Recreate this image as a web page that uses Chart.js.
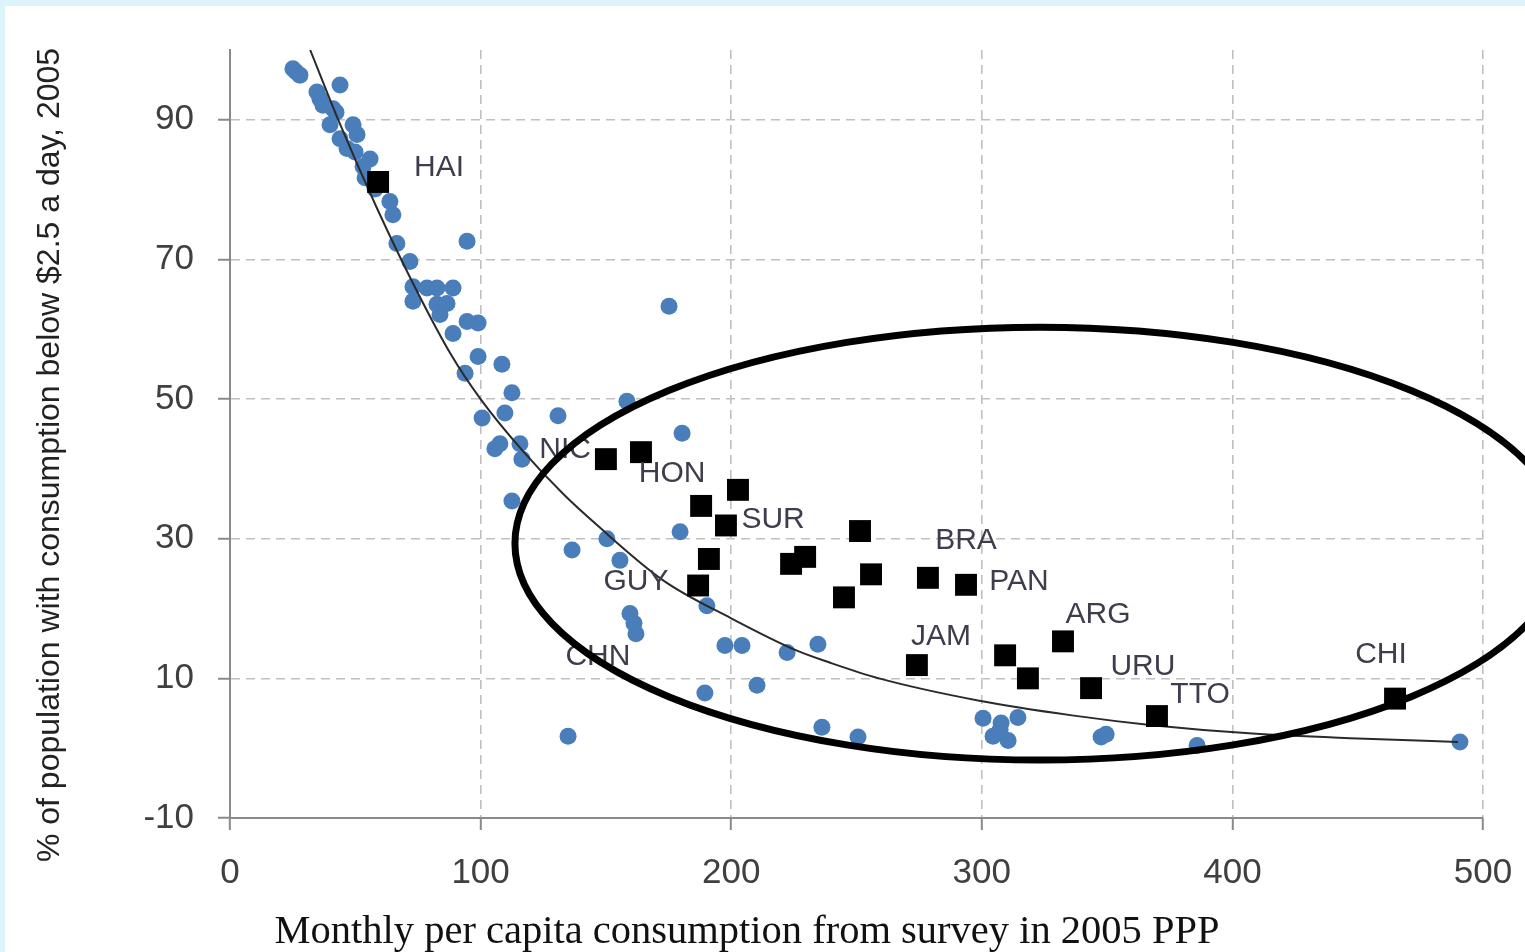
<!DOCTYPE html>
<html><head><meta charset="utf-8">
<script src="https://cdn.jsdelivr.net/npm/chart.js@4.4.1/dist/chart.umd.min.js"></script>
<style>
html,body{margin:0;padding:0;background:#dcf4f9;width:1525px;height:952px;overflow:hidden;}
#wrap{position:absolute;left:5px;top:6px;width:1520px;height:946px;background:#fff;}
</style></head><body><div id="wrap"><canvas id="c" width="1520" height="946"></canvas></div>
<script>
// ---- data ----
const blueX = [25.1,27.9,26.3,43.9,34.7,35.9,37.1,41.1,39.9,42.3,49.1,50.7,43.9,46.7,49.9,55.9,53.1,53.9,57.9,63.8,65.0,66.6,94.6,71.8,73.0,78.6,82.6,89.0,73.0,82.6,86.6,83.8,94.6,99.0,89.0,99.0,108.5,93.8,112.5,130.9,100.6,109.7,107.7,115.7,105.7,116.5,112.5,158.4,180.4,175.2,179.6,136.5,150.4,155.6,159.6,161.2,162.0,190.3,197.5,204.3,222.3,234.6,189.5,210.3,134.9,236.2,250.6,300.5,307.7,314.4,304.5,310.5,307.3,347.6,349.6,385.9,490.8];
const blueY = [97.3,96.4,96.9,95.0,94.0,93.0,92.1,91.6,89.3,91.1,89.3,87.9,87.3,85.9,85.4,84.4,83.3,81.7,80.1,78.3,76.4,72.3,72.6,69.7,66.1,65.9,65.9,65.9,64.0,63.6,63.7,62.1,61.1,60.9,59.4,56.1,55.0,53.7,50.9,47.6,47.3,48.0,43.6,43.6,42.9,41.4,35.4,49.7,45.1,63.3,31.0,28.4,30.0,26.9,19.3,17.9,16.4,20.4,14.7,14.7,13.7,14.9,7.9,9.0,1.7,3.0,1.6,4.3,3.6,4.4,1.7,1.1,2.6,1.6,2.0,0.4,0.9];
const squareX = [59.1,150.0,164.0,188.0,202.7,197.9,191.1,186.8,223.9,229.5,251.4,245.0,255.8,278.5,293.7,274.1,309.3,318.4,332.4,343.6,369.9,464.9];
const squareY = [81.1,41.4,42.4,34.7,37.0,31.9,27.1,23.3,26.4,27.4,31.1,21.6,24.9,24.4,23.4,11.9,13.3,10.0,15.3,8.6,4.6,7.1];
const labelNames = ["HAI","NIC","HON","SUR","GUY","CHN","BRA","PAN","JAM","ARG","URU","TTO","CHI"];
const labelX = [83.4,133.7,176.4,216.7,162.0,146.8,293.7,314.8,283.7,346.4,364.3,387.1,459.3];
const labelY = [83.1,42.7,39.3,32.7,23.9,13.1,29.7,23.9,15.9,19.1,11.7,7.7,13.4];
const trendX = [32,44,58.7,73,88,100,117,133,146,173,200,226,239,259,299,336,368,408,450,490];
const trendY = [100,89.3,77.3,66.6,56.5,50.0,42.5,36.4,32.1,24.0,18.6,14.0,12.3,10.0,6.8,4.7,3.3,2.1,1.4,0.9];
const xTicks = [0,100,200,300,400,500];
const yTicks = [-10,10,30,50,70,90];
const ellipseSpec = {cx:323.2, cy:29.3, rx:209.5, ry:31};
const xTitle = "Monthly per capita consumption from survey in 2005 PPP";
const yTitle = "% of population with consumption below $2.5 a day, 2005";

const zip = (xs, ys) => xs.map((x, i) => ({x, y: ys[i]}));

const overlay = {
  id: 'overlay',
  afterDatasetsDraw(chart) {
    const {ctx, scales: {x, y}} = chart;
    ctx.save();
    ctx.font = '30px "Liberation Sans", Arial, sans-serif';
    ctx.fillStyle = '#3d3d4d';
    ctx.textAlign = 'center';
    ctx.textBaseline = 'middle';
    labelNames.forEach((n, i) => {
      ctx.fillText(n, x.getPixelForValue(labelX[i]), y.getPixelForValue(labelY[i]));
    });
    ctx.restore();
  },
  afterDraw(chart) {
    const {ctx, scales: {x, y}} = chart;
    ctx.save();
    ctx.fillStyle = '#222';
    ctx.textAlign = 'center';
    ctx.textBaseline = 'middle';
    ctx.font = '32px "Liberation Sans", Arial, sans-serif';
    ctx.save();
    ctx.translate(45, 449);
    ctx.rotate(-Math.PI / 2);
    ctx.fillText(yTitle, 0, 0);
    ctx.restore();
    ctx.fillStyle = '#111';
    ctx.font = '40.5px "Liberation Serif", "Times New Roman", serif';
    ctx.fillText(xTitle, 742, 926);
    const cx = x.getPixelForValue(ellipseSpec.cx);
    const cy = y.getPixelForValue(ellipseSpec.cy);
    const rx = Math.abs(x.getPixelForValue(ellipseSpec.cx + ellipseSpec.rx) - cx);
    const ry = Math.abs(y.getPixelForValue(ellipseSpec.cy + ellipseSpec.ry) - cy);
    ctx.beginPath();
    ctx.ellipse(cx, cy, rx, ry, 0, 0, Math.PI * 2);
    ctx.lineWidth = 7;
    ctx.strokeStyle = '#000';
    ctx.stroke();
    ctx.restore();
  }
};

const tickFont = {family: '"Liberation Sans", Arial, sans-serif', size: 35};

new Chart(document.getElementById('c'), {
  type: 'scatter',
  data: {
    datasets: [
      {data: zip(blueX, blueY), backgroundColor: '#4a7ebb', borderWidth: 0, pointRadius: 8.5, order: 3},
      {type: 'line', data: zip(trendX, trendY), borderColor: '#2a2a2a', borderWidth: 2, pointRadius: 0, fill: false, cubicInterpolationMode: 'monotone', order: 2},
      {data: zip(squareX, squareY), backgroundColor: '#000', borderWidth: 0, pointStyle: 'rect', pointRadius: 15.5, order: 1}
    ]
  },
  options: {
    responsive: false,
    devicePixelRatio: 1,
    animation: false,
    events: [],
    layout: {padding: {left: 0, top: 44, right: 42, bottom: 0}, autoPadding: false},
    plugins: {legend: {display: false}, tooltip: {enabled: false}},
    scales: {
      x: {
        type: 'linear', min: 0, max: 500,
        afterBuildTicks: s => { s.ticks = xTicks.map(v => ({value: v})); },
        afterFit: s => { s.height = 134; s.paddingLeft = 0; s.paddingRight = 0; },
        ticks: {font: tickFont, color: '#404040', padding: 22, maxRotation: 0},
        grid: {
          color: c => (c.tick && c.tick.value === 0) ? 'rgba(0,0,0,0)' : '#c0c0c0',
          lineWidth: 1.6, tickLength: 12, tickColor: '#8a8a8a', tickBorderDash: [1, 0], tickWidth: 2
        },
        border: {color: '#8a8a8a', width: 2, dash: [9, 6]}
      },
      y: {
        type: 'linear', min: -10, max: 100,
        afterBuildTicks: s => { s.ticks = yTicks.map(v => ({value: v})); },
        afterFit: s => { s.width = 225; s.paddingTop = 0; s.paddingBottom = 0; },
        ticks: {font: tickFont, color: '#404040', padding: 24},
        grid: {
          color: c => (c.tick && c.tick.value === -10) ? 'rgba(0,0,0,0)' : '#c0c0c0',
          lineWidth: 1.6, tickLength: 12, tickColor: '#8a8a8a', tickBorderDash: [1, 0], tickWidth: 2
        },
        border: {color: '#8a8a8a', width: 2, dash: [9, 6]}
      }
    }
  },
  plugins: [overlay]
});
</script></body></html>
